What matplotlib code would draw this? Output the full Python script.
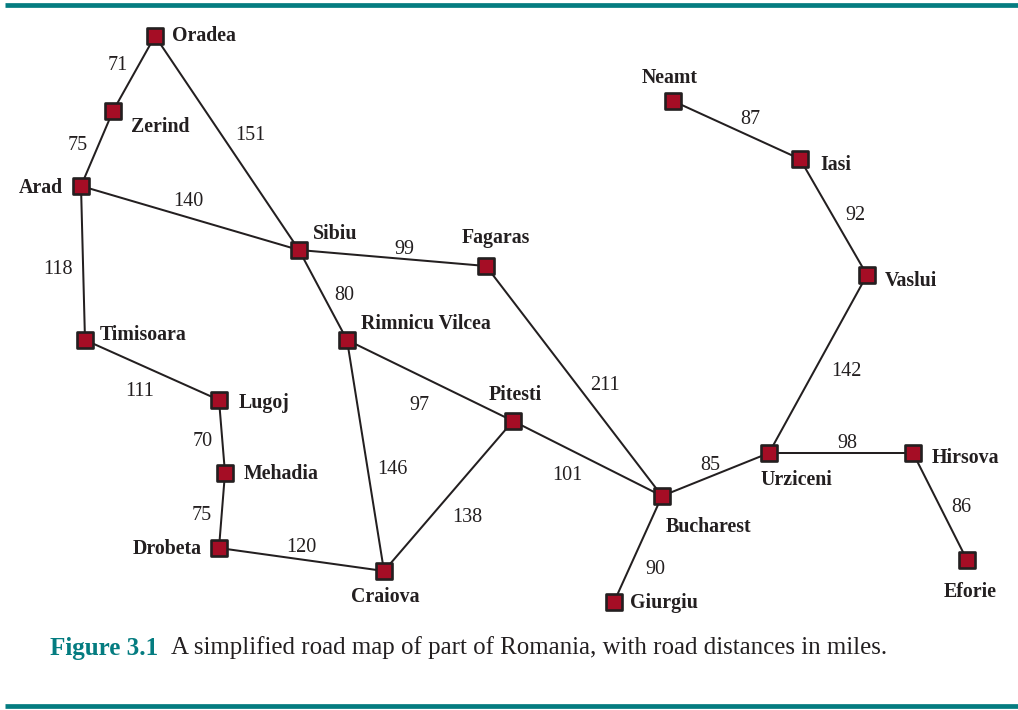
import matplotlib

matplotlib.use("Agg")
import matplotlib.pyplot as plt

WIDTH, HEIGHT = 1018, 710
TEAL = "#047c80"
INK = "#231f20"
RED = "#a50d25"

plt.rcParams["font.family"] = ["Liberation Serif", "DejaVu Serif"]

# city: node position in picture pixels
cities = ["Oradea", "Zerind", "Arad", "Timisoara", "Lugoj", "Mehadia", "Drobeta",
          "Craiova", "Sibiu", "Rimnicu Vilcea", "Fagaras", "Pitesti", "Bucharest",
          "Giurgiu", "Urziceni", "Hirsova", "Eforie", "Vaslui", "Iasi", "Neamt"]
city_x = [155, 113, 81, 85, 219, 225, 219, 384, 299, 347, 486, 513, 662, 614, 769, 913, 967, 867, 800, 673]
city_y = [36, 111, 186, 340, 400, 473, 548, 571, 250, 340, 266, 421, 496, 602, 453, 453, 560, 275, 159, 101]

# label anchor for each city, left edge and vertical middle
label_x = [172, 131, 19, 100, 239, 244, 133, 351, 313, 361, 462, 489, 666, 630, 760, 932, 944, 885, 820, 642]
label_y = [36, 127, 188, 335, 403, 474, 549, 597, 234, 324, 238, 395, 527, 603, 480, 458, 592, 281, 165, 78]

# roads and their distances
road_a = ["Oradea", "Zerind", "Oradea", "Arad", "Arad", "Timisoara", "Lugoj", "Mehadia",
          "Drobeta", "Sibiu", "Sibiu", "Rimnicu Vilcea", "Rimnicu Vilcea", "Craiova",
          "Fagaras", "Pitesti", "Bucharest", "Bucharest", "Urziceni", "Hirsova",
          "Urziceni", "Vaslui", "Iasi"]
road_b = ["Zerind", "Arad", "Sibiu", "Sibiu", "Timisoara", "Lugoj", "Mehadia", "Drobeta",
          "Craiova", "Fagaras", "Rimnicu Vilcea", "Pitesti", "Craiova", "Pitesti",
          "Bucharest", "Bucharest", "Giurgiu", "Urziceni", "Hirsova", "Eforie",
          "Vaslui", "Iasi", "Neamt"]
road_miles = [71, 75, 151, 140, 118, 111, 70, 75, 120, 99, 80, 97, 146, 138, 211, 101,
              90, 85, 98, 86, 142, 92, 87]
miles_x = [118, 78, 250, 188, 58, 140, 203, 202, 301, 404, 344, 419, 392, 467, 605, 567,
           655, 710, 847, 961, 846, 855, 750]
miles_y = [65, 146, 136, 201, 270, 391, 441, 516, 547, 249, 296, 405, 469, 517, 385, 476,
           569, 465, 444, 507, 372, 215, 120]


def main() -> None:
    fig = plt.figure(figsize=(WIDTH / 100, HEIGHT / 100), dpi=100, facecolor="white")
    ax = fig.add_axes([0, 0, 1, 1])
    ax.set_xlim(0, WIDTH)
    ax.set_ylim(HEIGHT, 0)
    ax.axis("off")

    # top and bottom rules
    ax.plot([5, 1018], [4.5, 4.5], color=TEAL, lw=3.4, solid_capstyle="butt")
    ax.plot([5, 1018], [705.5, 705.5], color=TEAL, lw=3.4, solid_capstyle="butt")

    pos = {name: (x, y) for name, x, y in zip(cities, city_x, city_y)}
    for a, b in zip(road_a, road_b):
        ax.plot([pos[a][0], pos[b][0]], [pos[a][1], pos[b][1]], color=INK, lw=1.45, zorder=2)

    ax.scatter(city_x, city_y, marker="s", s=130, c=RED, edgecolors=INK, linewidths=1.9, zorder=3)

    for name, x, y in zip(cities, label_x, label_y):
        ax.text(x, y, name, fontsize=14.3, fontweight="bold", color=INK, ha="left", va="center")
    for miles, x, y in zip(road_miles, miles_x, miles_y):
        ax.text(x, y, str(miles), fontsize=14.5, color=INK, ha="center", va="center")

    ax.text(50, 648, "Figure 3.1", fontsize=18.1, fontweight="bold", color=TEAL, ha="left", va="center")
    ax.text(171, 648, "A simplified road map of part of Romania, with road distances in miles.",
            fontsize=17.9, color=INK, ha="left", va="center")

    fig.savefig("out.png", dpi=100)
    plt.close(fig)


if __name__ == "__main__":
    main()
